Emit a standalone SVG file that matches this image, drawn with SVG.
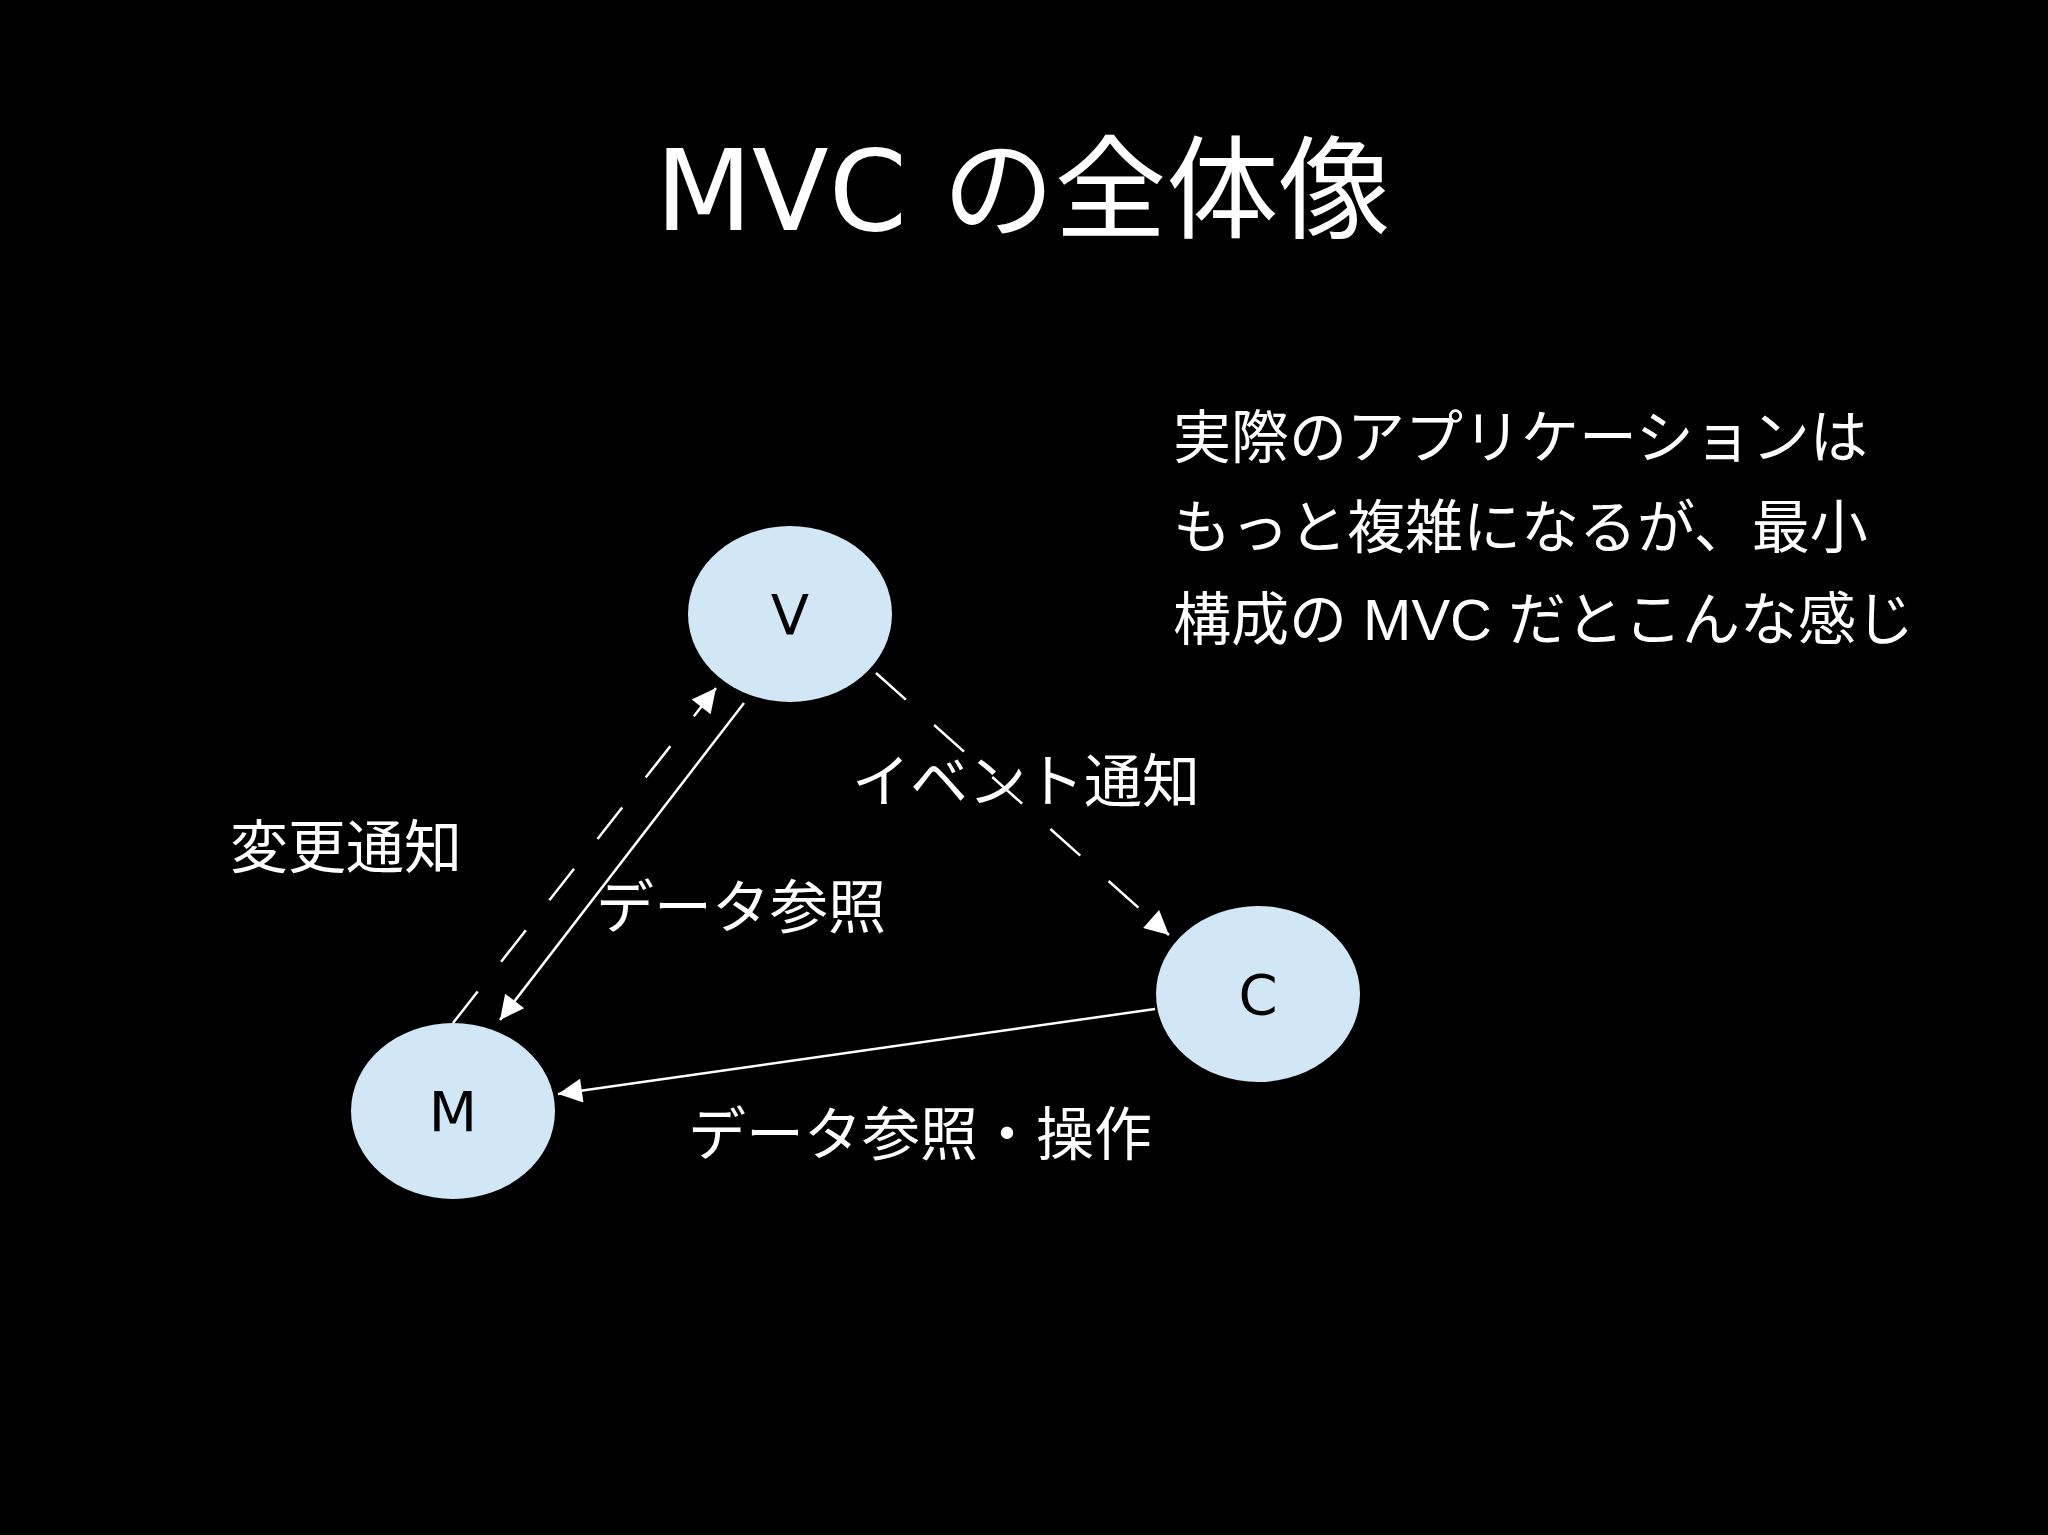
<svg xmlns="http://www.w3.org/2000/svg" width="2048" height="1535" viewBox="0 0 2048 1535">
<style>
text{fill:#fff;font-family:"Liberation Sans","Noto Sans CJK JP",sans-serif}
.n{fill:#d1e7f6}
.nl{fill:#000;font-family:"DejaVu Sans","Noto Sans CJK JP",sans-serif;font-size:56px;text-anchor:middle}
.c{stroke:#fff;stroke-width:2.5;fill:none}
.d{stroke-dasharray:40 38}
.t{font-family:"Noto Sans CJK JP",sans-serif;font-size:58px}
</style>
<defs><marker id="a" viewBox="0 0 10 10" refX="10" refY="5" markerWidth="13" markerHeight="11" markerUnits="userSpaceOnUse" orient="auto"><path d="M0,0L10,5L0,10z" fill="#fff"/></marker>
<marker id="b" viewBox="0 0 10 10" refX="10" refY="5" markerWidth="34" markerHeight="24" markerUnits="userSpaceOnUse" orient="auto"><path d="M0,0L10,5L0,10z" fill="#fff"/></marker></defs>
<rect width="2048" height="1535" fill="#000"/>
<text x="1023" y="230" font-size="112" text-anchor="middle" style="font-family:'DejaVu Sans','Noto Sans CJK JP',sans-serif">MVC の全体像</text>
<g class="t"><text x="1173" y="458">実際のアプリケーションは</text><text x="1173" y="548">もっと複雑になるが、最小</text><text x="1173" y="640">構成の MVC だとこんな感じ</text></g>
<g id="connectors">
<line class="c d" x1="453" y1="1023" x2="716" y2="688" marker-end="url(#b)"/>
<line class="c" x1="744" y1="703" x2="500" y2="1020" marker-end="url(#b)"/>
<line class="c d" x1="876" y1="673" x2="1169" y2="935" marker-end="url(#b)"/>
<line class="c" x1="1155" y1="1009" x2="558" y2="1094" marker-end="url(#b)"/>
</g>
<g id="V"><ellipse class="n" cx="790" cy="614" rx="102" ry="88"/><text class="nl" x="790" y="634">V</text></g>
<g id="M"><ellipse class="n" cx="453" cy="1111" rx="102" ry="88"/><text class="nl" x="453" y="1131">M</text></g>
<g id="C"><ellipse class="n" cx="1258" cy="994" rx="102" ry="88"/><text class="nl" x="1258" y="1014">C</text></g>
<g class="t">
<text x="230" y="868">変更通知</text>
<text x="596" y="928">データ参照</text>
<text x="852" y="802">イベント通知</text>
<text x="688" y="1155">データ参照・操作</text>
</g>
</svg>
